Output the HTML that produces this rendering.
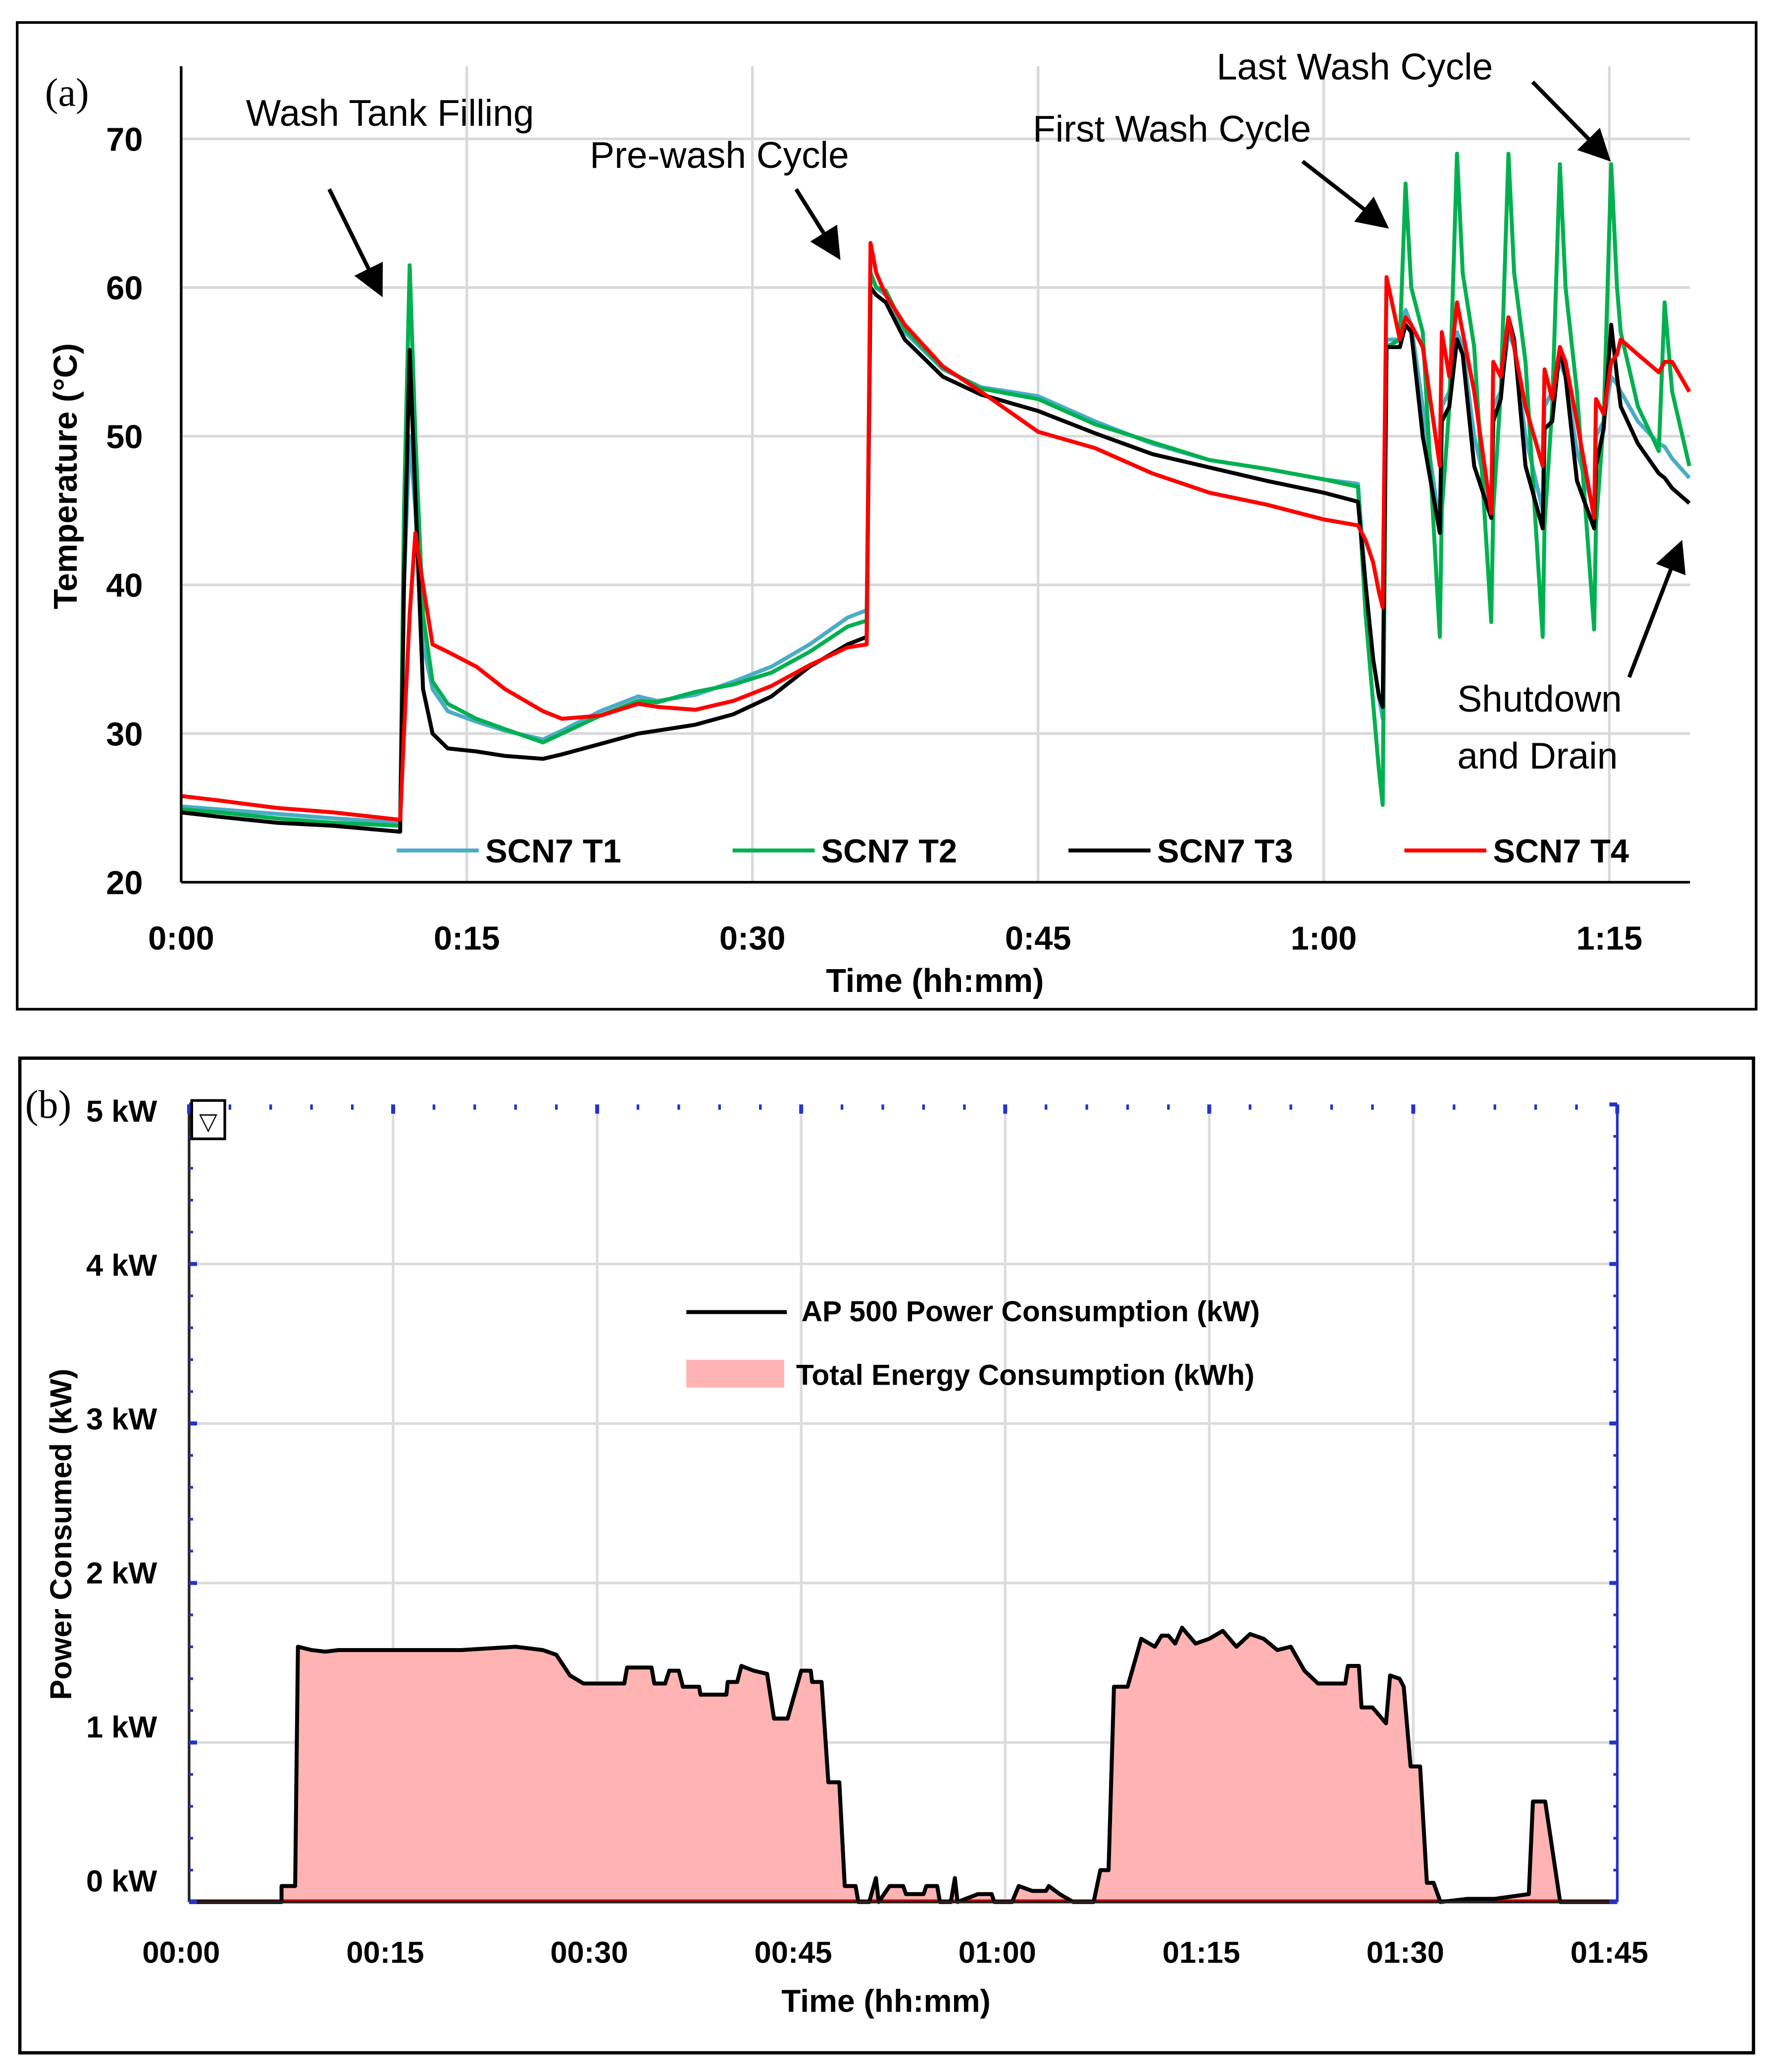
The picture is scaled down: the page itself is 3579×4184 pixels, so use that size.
<!DOCTYPE html>
<html><head><meta charset="utf-8"><style>
html,body{margin:0;padding:0;background:#fff;}
svg{display:block;}
text{font-family:"Liberation Sans",sans-serif;}
</style></head><body>
<svg id="fig" width="3579" height="4184" viewBox="0 0 1340 1566.5" xmlns="http://www.w3.org/2000/svg">
<rect x="13" y="17" width="1315" height="746" fill="none" stroke="#000" stroke-width="2"/>
<g id="topGrid"></g>
<g id="topLines"></g>
<g id="topAxes"></g>
<text x="34" y="80" font-size="30" style="font-family:'Liberation Serif',serif">(a)</text>
<text transform="translate(58,360) rotate(-90)" text-anchor="middle" font-size="25" font-weight="bold">Temperature (°C)</text>
<text x="707" y="750" text-anchor="middle" font-size="25" font-weight="bold">Time (hh:mm)</text>
<g font-size="28">
<text x="186" y="95">Wash Tank Filling</text>
<text x="446" y="127">Pre-wash Cycle</text>
<text x="781" y="107">First Wash Cycle</text>
<text x="920" y="60">Last Wash Cycle</text>
<text x="1102" y="538">Shutdown</text>
<text x="1102" y="581">and Drain</text>
</g>
<defs><marker id="ah" markerWidth="8" markerHeight="8" refX="7" refY="4" orient="auto" markerUnits="strokeWidth"><path d="M0,0 L8,4 L0,8 z" fill="#000"/></marker></defs>
<g stroke="#000" stroke-width="3" marker-end="url(#ah)">
<line x1="249" y1="143" x2="288" y2="222"/>
<line x1="602" y1="143" x2="634" y2="194"/>
<line x1="985" y1="122" x2="1048" y2="171"/>
<line x1="1159" y1="62" x2="1216" y2="120"/>
<line x1="1232" y1="512" x2="1271" y2="411"/>
</g>
<g id="topLegend" font-size="25" font-weight="bold"></g>

<rect x="15" y="800" width="1311" height="752" fill="none" stroke="#000" stroke-width="2.5"/>
<g id="botGrid"></g>
<g id="botSeries"></g>
<g id="botAxes"></g>
<text x="19" y="845" font-size="30" style="font-family:'Liberation Serif',serif">(b)</text>
<rect x="145" y="832" width="25" height="29" fill="#fff" stroke="#000" stroke-width="2"/>
<text x="157.5" y="854" text-anchor="middle" font-size="18">▽</text>
<text transform="translate(54,1160) rotate(-90)" text-anchor="middle" font-size="23" font-weight="bold">Power Consumed (kW)</text>
<text x="670" y="1521" text-anchor="middle" font-size="24" font-weight="bold">Time (hh:mm)</text>
<line x1="519" y1="992" x2="595" y2="992" stroke="#000" stroke-width="3"/>
<text x="606" y="999" font-size="22" font-weight="bold">AP 500 Power Consumption (kW)</text>
<rect x="519" y="1028" width="74" height="21" fill="#ffb3b3"/>
<text x="602" y="1047" font-size="22" font-weight="bold">Total Energy Consumption (kWh)</text>
</svg>
<script>
// ---- Panel (a) data ----
const times = [0,2,5,8,11.5,11.7,12.0,12.3,12.7,13.2,14,15.5,17,19,20,22,24,25,27,29,31,33,35,36.0,36.2,36.5,37,38,40,42,45,48,51,54,57,60,61.8,62.2,62.6,62.9,63.1,63.3,64.0,64.3,64.6,65.2,66.1,66.2,66.6,67.0,67.3,67.9,68.8,68.9,69.3,69.7,70.0,70.6,71.5,71.6,72.0,72.4,72.7,73.3,74.2,74.3,74.7,75.1,75.4,75.6,76.5,77.6,77.9,78.3,79.2];
const t1 = [25.1,24.9,24.6,24.3,24.0,40,50,45,36,33,31.5,30.8,30.2,29.6,30.2,31.5,32.5,32.2,32.6,33.5,34.5,36,37.8,38.3,61,60,59.5,57,54.5,53.3,52.7,51,49.5,48.4,47.8,47.1,46.8,40,35,32.5,31,56.5,56.5,58.5,57.5,52,44,52,53,57,56,50,45,52,53,57,56,50,45,52,53,55,54,49,45,50,51,54,53.5,53,51,49.5,49.3,48.5,47.2];
const t2 = [24.9,24.7,24.3,24.0,23.8,45,61.5,50,38,33.5,32,31,30.3,29.4,30,31.2,32.2,32.1,32.8,33.3,34.1,35.5,37.2,37.6,61,60,59.8,57.2,54.6,53.2,52.5,50.8,49.6,48.4,47.8,47.1,46.6,38,32,27.5,25.2,56,56.5,67,60,57,36.5,45,52,69,61,56,37.5,45,53,69,61,55,36.5,44,52,68.3,60,53,37,44,51,68.3,60,57,52,49,59,53,48];
const t3 = [24.7,24.4,24.0,23.8,23.4,40,55.8,46,33,30,29,28.8,28.5,28.3,28.6,29.3,30,30.2,30.6,31.3,32.5,34.5,36,36.5,60,59.5,59,56.5,54,52.8,51.7,50.2,48.8,47.9,47,46.2,45.6,40,35,32.5,31.8,56,56,57.5,57,50,43.5,51,52,56.5,55.5,48,44.5,51,52.5,58,56.5,48,43.8,50.5,51,56,54,47,43.8,48,50.5,57.5,54,52,49.5,47.5,47.2,46.5,45.5];
const t4 = [25.8,25.5,25.0,24.7,24.2,30,38,43.5,40,36,35.5,34.5,33,31.5,31,31.2,32,31.8,31.6,32.2,33.2,34.6,35.8,36,63,61,59.5,57.5,54.7,53,50.3,49.2,47.5,46.2,45.4,44.4,44,43,41.5,39.5,38.5,60.7,56.5,58,57.5,56,48,57,54,59,57,53,44.8,55,54,58,56,52,48,54.5,52.5,56,55,51,44.5,52.5,51.5,55,55.5,56.5,55.5,54.3,55,55,53];
const yTicksA = [20,30,40,50,60,70];
const xTicksA = [0,15,30,45,60,75];
const xTickLabelsA = ["0:00","0:15","0:30","0:45","1:00","1:15"];
const seriesNamesA = ["SCN7 T1","SCN7 T2","SCN7 T3","SCN7 T4"];

// ---- Panel (b) data ----
const pTimes = [0,6.8,6.8,7.8,8,9,10,11,20,24,26,27,28,29,32,32.2,34,34.2,35,35.3,36,36.3,37.5,37.6,39.5,39.6,40.3,40.6,41.5,42.5,43,44,45,45.7,45.8,46.5,47,47.8,48.2,49,49.2,50,50.5,50.7,51.5,52.5,52.7,54,54.2,55,55.2,56,56.3,56.5,58,59,59.2,60.5,61,62,63,63.2,64,65,66.5,67,67.6,68,69,70,71,71.5,72,72.5,73,74,75,76,77,78,79,80,81,82,83,85,85.2,86,86.2,87,88,88.3,89,89.3,89.8,90.5,91,91.5,92,94,96,98.5,98.8,99.7,100.8,105];
const pKW = [0,0,0.1,0.1,1.6,1.58,1.57,1.58,1.58,1.6,1.58,1.55,1.42,1.37,1.37,1.47,1.47,1.37,1.37,1.45,1.45,1.35,1.35,1.3,1.3,1.38,1.38,1.48,1.45,1.43,1.15,1.15,1.45,1.45,1.38,1.38,0.75,0.75,0.1,0.1,0,0,0.15,0,0.1,0.1,0.05,0.05,0.1,0.1,0,0,0.15,0,0.05,0.05,0,0,0.1,0.07,0.07,0.1,0.05,0,0,0.2,0.2,1.35,1.35,1.65,1.6,1.67,1.67,1.62,1.72,1.62,1.65,1.7,1.6,1.68,1.65,1.58,1.6,1.45,1.37,1.37,1.48,1.48,1.22,1.22,1.12,1.42,1.4,1.35,0.85,0.85,0.12,0.12,0,0.02,0.02,0.05,0.63,0.63,0,0];
const yTicksB = [0,1,2,3,4,5];
const yTickLabelsB = ["0 kW","1 kW","2 kW","3 kW","4 kW","5 kW"];
const xTicksB = [0,15,30,45,60,75,90,105];
const xTickLabelsB = ["00:00","00:15","00:30","00:45","01:00","01:15","01:30","01:45"];

const NS = "http://www.w3.org/2000/svg";
function mk(tag, attrs, parent){const e=document.createElementNS(NS,tag);for(const k in attrs)e.setAttribute(k,attrs[k]);parent.appendChild(e);return e;}

const xA = t => 137 + 14.4*t;
const yA = v => 667 - 11.24*(v-20);
const xB = t => 143 + (1223-143)/105*t;
const yB = v => 1438 - 120.6*v;
const yLabB = v => 840 + (5-v)*116.4;

const gA = document.getElementById('topGrid');
yTicksA.forEach(v=>{
  if(v>20){const l=mk('line',{x1:137,x2:1278,y1:yA(v),y2:yA(v),stroke:'#d9d9d9','stroke-width':2},gA);
  
  }
});
xTicksA.forEach((t,i)=>{
  if(t>0){const l=mk('line',{x1:xA(t),x2:xA(t),y1:50,y2:667,stroke:'#d9d9d9','stroke-width':2},gA);
  
  }
});
const axA = document.getElementById('topAxes');
let e;
e=mk('line',{x1:137,x2:137,y1:50,y2:667,stroke:'#000','stroke-width':2},axA);


e=mk('line',{x1:137,x2:1278,y1:667,y2:667,stroke:'#000','stroke-width':2},axA);


yTicksA.forEach(v=>{
  const t=mk('text',{x:108,y:yA(v)+9,'text-anchor':'end','font-size':25,'font-weight':'bold'},axA);
  t.textContent=v;
  
  
});
xTicksA.forEach((tv,i)=>{
  const t=mk('text',{x:xA(tv),y:718,'text-anchor':'middle','font-size':25,'font-weight':'bold'},axA);
  t.textContent=xTickLabelsA[i];
  
  
});
const colorsA=['#4bacc6','#00b050','#000000','#ff0000'];
const gL=document.getElementById('topLines');
[t1,t2,t3,t4].forEach((vals,si)=>{
  const d=times.map((t,i)=>(i?'L':'M')+xA(t).toFixed(1)+','+yA(vals[i]).toFixed(1)).join(' ');
  const p=mk('path',{d:d,fill:'none',stroke:colorsA[si],'stroke-width':3,'stroke-linejoin':'round'},gL);
  
  
});
const lg=document.getElementById('topLegend');
const legX=[300,554,808,1062];
seriesNamesA.forEach((n,i)=>{
  const l=mk('line',{x1:legX[i],x2:legX[i]+62,y1:643,y2:643,stroke:colorsA[i],'stroke-width':3},lg);
  
  
  const t=mk('text',{x:legX[i]+67,y:652},lg);
  t.textContent=n;
  
  
});

const gB=document.getElementById('botGrid');
yTicksB.forEach(v=>{
  if(v>0 && v<5){const l=mk('line',{x1:143,x2:1223,y1:yB(v),y2:yB(v),stroke:'#dcdcdc','stroke-width':2},gB);
  
  }
});
xTicksB.forEach((t,i)=>{
  if(t>0 && t<105){const l=mk('line',{x1:xB(t),x2:xB(t),y1:835,y2:1438,stroke:'#dcdcdc','stroke-width':2},gB);
  
  }
});
const sB=document.getElementById('botSeries');
let area='M'+xB(pTimes[0])+','+yB(0)+' '+pTimes.map((t,i)=>'L'+xB(t).toFixed(1)+','+yB(pKW[i]).toFixed(1)).join(' ')+' L'+xB(pTimes[pTimes.length-1])+','+yB(0)+' Z';
e=mk('path',{d:area,fill:'#ffb3b3',stroke:'none'},sB);


e=mk('line',{x1:xB(0),x2:xB(105),y1:yB(0)-1,y2:yB(0)-1,stroke:'#d00','stroke-width':2},sB);


const ln=pTimes.map((t,i)=>(i?'L':'M')+xB(t).toFixed(1)+','+yB(pKW[i]).toFixed(1)).join(' ');
e=mk('path',{d:ln,fill:'none',stroke:'#000','stroke-width':3,'stroke-linejoin':'round'},sB);



const axB=document.getElementById('botAxes');
e=mk('line',{x1:143,x2:143,y1:835,y2:1438,stroke:'#222','stroke-width':2},axB);


e=mk('line',{x1:143,x2:1223,y1:1438,y2:1438,stroke:'#222','stroke-width':2},axB);


e=mk('line',{x1:1223,x2:1223,y1:835,y2:1438,stroke:'#2233cc','stroke-width':2},axB);


for(let k=0;k<=35;k++){
  const t=k*3; const maj=(t%15===0);
  const l=mk('line',{x1:xB(t),x2:xB(t),y1:835,y2:835+(maj?7:4),stroke:'#2233cc','stroke-width':maj?3:2},axB);
  
  
}
for(let k=0;k<=25;k++){
  const v=k*0.2; const maj=(k%5===0);
  const l1=mk('line',{x1:143,x2:143+(maj?6:3),y1:yB(v),y2:yB(v),stroke:'#2233cc','stroke-width':maj?3:2},axB);
  
  
  const l2=mk('line',{x1:1223-(maj?6:3),x2:1223,y1:yB(v),y2:yB(v),stroke:'#2233cc','stroke-width':maj?3:2},axB);
  
  
}
yTicksB.forEach((v,i)=>{
  const t=mk('text',{x:92,y:yLabB(v)+8,'text-anchor':'middle','font-size':23,'font-weight':'bold'},axB);
  t.textContent=yTickLabelsB[i];
  
  
});
xTicksB.forEach((tv,i)=>{
  const t=mk('text',{x:xB(tv)-6,y:1484,'text-anchor':'middle','font-size':23,'font-weight':'bold'},axB);
  t.textContent=xTickLabelsB[i];
  
  
});
</script>
</body></html>
